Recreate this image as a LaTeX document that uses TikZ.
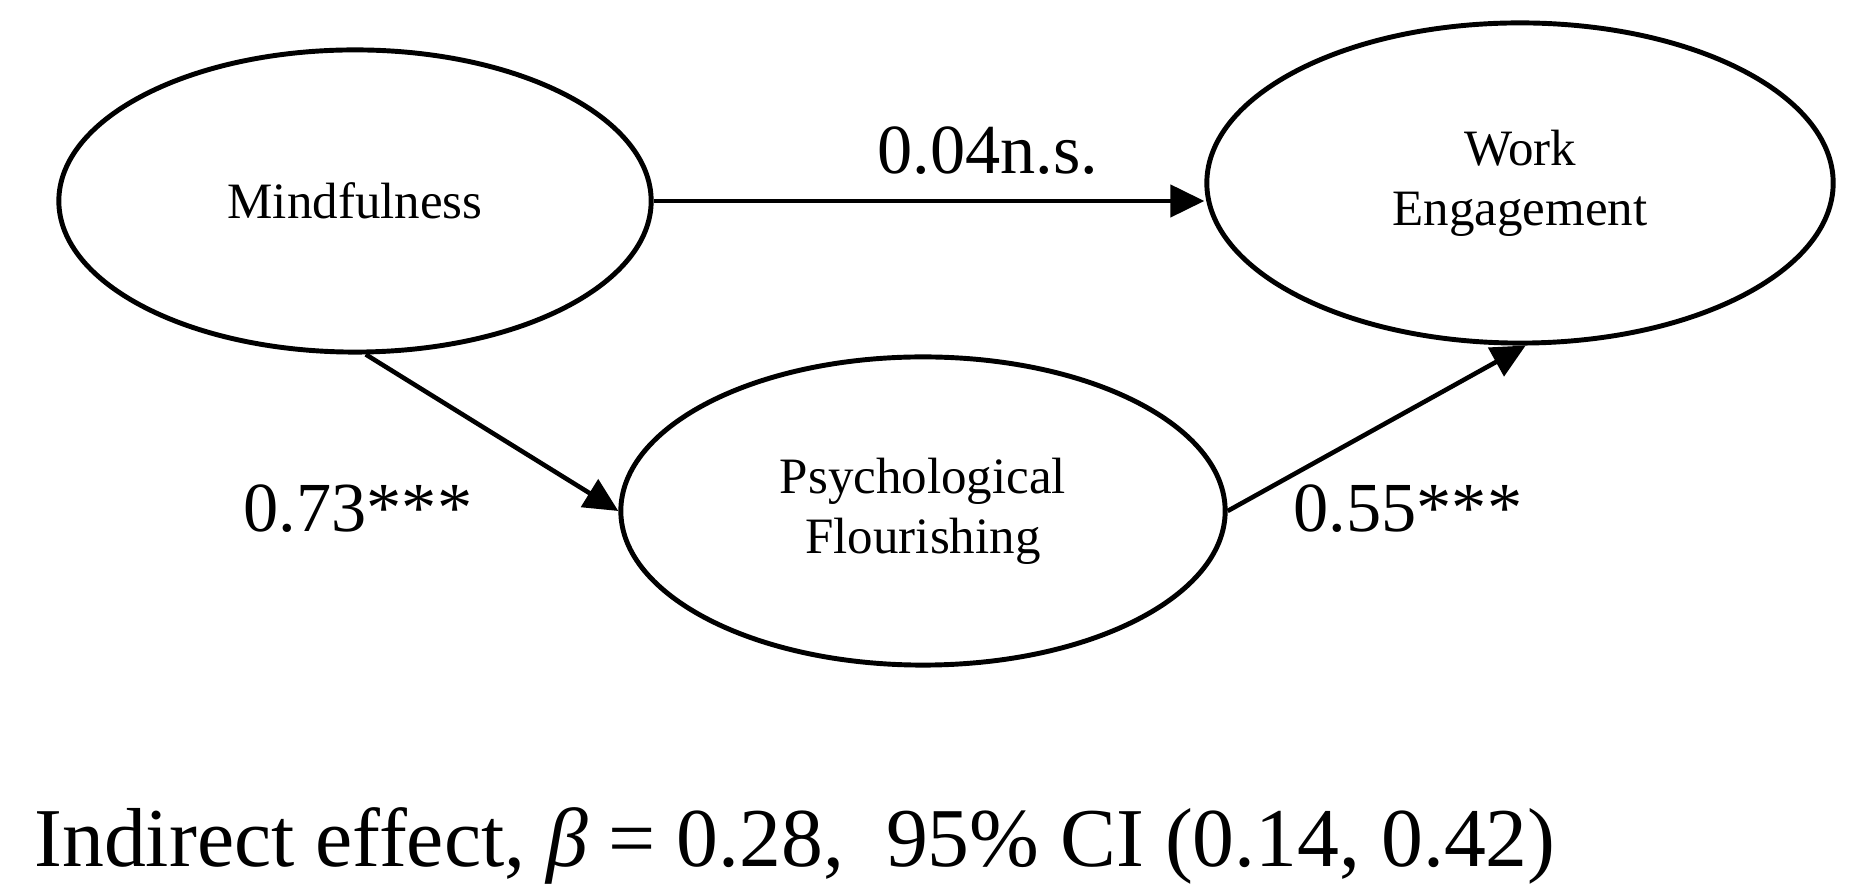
\documentclass[tikz,border=0pt]{standalone}
\usepackage{fontspec}
\setmainfont{Liberation Serif}
\usetikzlibrary{shapes.geometric,arrows.meta}
\begin{document}
\begin{tikzpicture}[x=0.01cm,y=-0.01cm,
  ell/.style={draw,line width=1.4pt,ellipse,inner sep=0pt,align=center,font=\fontsize{14.5}{17}\selectfont},
  arr/.style={line width=1.3pt,-{Triangle[length=0.34cm,width=0.32cm]}},
  lab/.style={font=\fontsize{20}{24}\selectfont}]
\useasboundingbox (0,0) rectangle (1855,895);
\node[ell,minimum width=5.92cm,minimum height=3.02cm] (m) at (355,201) {Mindfulness};
\node[ell,minimum width=6.26cm,minimum height=3.2cm] (w) at (1520,183) {Work\\Engagement};
\node[ell,minimum width=6.04cm,minimum height=3.08cm] (p) at (923,511) {Psychological\\Flourishing};
\draw[arr] (m.east) -- (m.east -| w.west);
\draw[arr] (m.-86) -- (p.west);
\draw[arr] (p.east) -- (w.-88);
\node[lab] (l1) at (988,151) {0.04n.s.};
\node[lab] (l2) at (358,509) {0.73***};
\node[lab] (l3) at (1408,509) {0.55***};
\node[font=\fontsize{23.8}{28}\selectfont] (t) at (795,846) {Indirect effect, \textit{β} = 0.28,\ \ 95\% CI (0.14, 0.42)};
\end{tikzpicture}
\end{document}
